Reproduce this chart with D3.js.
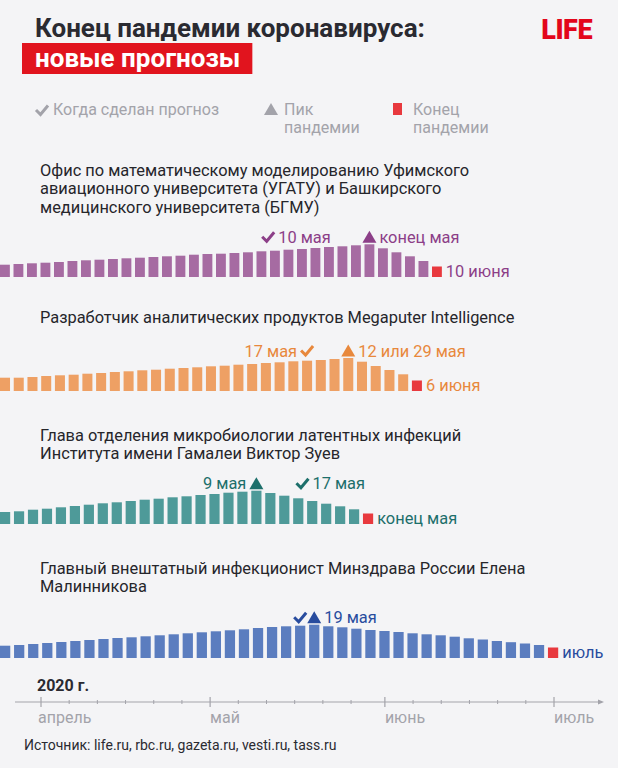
<!DOCTYPE html>
<html>
<head>
<meta charset="utf-8">
<script src="https://cdn.jsdelivr.net/npm/d3@7"></script>
<style>
  html, body { margin: 0; padding: 0; background: #f4f4f6; }
  svg { display: block; font-family: Roboto, "Noto Sans", sans-serif; }
  .row-title { font-size: 16.4px; fill: #26262b; }
  .note { font-size: 16.4px; }
  .legend-text { font-size: 16px; fill: #a3a3aa; }
  .month { font-size: 16px; fill: #a3a3aa; }
</style>
</head>
<body>
<div id="chart"></div>
<script>
// ranking of forecasts: four rows of bars, one per forecaster

// bar heights (relative units)
var purpleBars = [12.3, 13, 13.7, 14.3, 15, 16, 16.7, 17.3, 18, 18.7, 19.3, 20, 20.7, 21.3, 22.3, 23,
    23.3, 24, 24.7, 25.7, 26.3, 27.3, 28, 29, 30, 30.7, 31.7, 32.7, 28.7, 24.7, 20.7, 16];
var orangeBars = [13.3, 13.3, 14, 15, 15.7, 16.3, 17.3, 18, 19, 19.7, 20.7, 21.3, 22.3, 23, 23.7,
    24.7, 25.3, 26.3, 27, 28, 28.7, 29.7, 30.3, 31, 32, 33, 29.3, 25, 21, 16.7];
var tealBars = [12, 12.7, 14.3, 15.3, 16.7, 18, 19.3, 20.7, 21.7, 23, 24.3, 25.3, 26.7, 27.7, 29,
    30, 31.3, 32.3, 33.3, 31, 28.3, 25.7, 23, 20.3, 17.7, 14.7];
var blueBars = [12.3, 13, 14, 15, 16, 17, 18, 19, 20, 20.7, 21.7, 22.7, 23.7, 24.7, 25.7, 26.7,
    27.7, 28.7, 30, 31, 31.7, 32.3, 33.3, 31.7, 30.7, 29.3, 28, 27, 26, 24.7, 23.7, 22.7, 21.3,
    19.7, 18.5, 17, 15.8, 14.5, 13];

var rowTitles = [
    ["Офис по математическому моделированию Уфимского",
     "авиационного университета (УГАТУ) и Башкирского",
     "медицинского университета (БГМУ)"],
    ["Разработчик аналитических продуктов Megaputer Intelligence"],
    ["Глава отделения микробиологии латентных инфекций",
     "Института имени Гамалеи Виктор Зуев"],
    ["Главный внештатный инфекционист Минздрава России Елена",
     "Малинникова"]
];

// where the marks sit, as bar index, and their labels
var forecastIdx = [19.5, 22, 21.3, 21];
var forecastLabels = ["10 мая", "17 мая", "17 мая", ""];
var forecastSide = ["right", "left", "right", "none"];
var peakIdx = [27, 25, 18, 22];
var peakLabels = ["конец мая", "12 или 29 мая", "9 мая", "19 мая"];
var peakSide = ["right", "right", "left", "right"];
var endLabels = ["10 июня", "6 июня", "конец мая", "июль"];

var monthNames = ["апрель", "май", "июнь", "июль"];
var monthStarts = [new Date(2020, 3, 1), new Date(2020, 4, 1), new Date(2020, 5, 1), new Date(2020, 6, 1)];
var minorDays = [6, 11, 16, 21, 26];

var legendLabels = [["Когда сделан прогноз"], ["Пик", "пандемии"], ["Конец", "пандемии"]];

// colours and layout per row
var barColors = ["#a66ba2", "#eea064", "#4e9a99", "#5b7dbf"];
var noteColors = ["#8c3f88", "#e8883c", "#1d6f6b", "#284c9e"];
var rowBottoms = [277, 391, 524, 658];
var rowTitleY = [176, 323, 441, 574];
var rowSteps = [13.5, 13.73, 13.96, 14.05];
var endRed = "#e8393e";

var width = 618, height = 768;

var svg = d3.select("#chart").append("svg")
    .attr("width", width)
    .attr("height", height);

svg.append("rect").attr("width", width).attr("height", height).attr("fill", "#f4f4f6");

// * title
svg.append("text")
    .attr("x", 35).attr("y", 37)
    .attr("font-size", 26).attr("font-weight", 700)
    .attr("fill", "#2a2a31")
    .text("Конец пандемии коронавируса:");

var subBox = svg.append("rect").attr("fill", "#e1141e");
var sub = svg.append("text")
    .attr("x", 35).attr("y", 67)
    .attr("font-size", 26).attr("font-weight", 700)
    .attr("fill", "#ffffff")
    .text("новые прогнозы");
var bb = sub.node().getBBox();
subBox.attr("x", 22).attr("y", 43).attr("width", bb.x + bb.width + 12 - 22).attr("height", 31);

svg.append("text")
    .attr("x", 592).attr("y", 39)
    .attr("text-anchor", "end")
    .attr("font-size", 27).attr("font-weight", 900)
    .attr("letter-spacing", -0.5)
    .attr("fill", "#e3061b")
    .text("LIFE");

// little glyphs
function drawCheck(g, cx, base, color) {
    g.append("path")
        .attr("d", "M" + (cx - 6) + "," + (base - 6) + " L" + (cx - 1.5) + "," + (base - 1.5) +
            " L" + (cx + 6) + "," + (base - 10.5))
        .attr("fill", "none")
        .attr("stroke", color)
        .attr("stroke-width", 3);
}
function drawTriangle(g, cx, base, color) {
    g.append("path")
        .attr("d", "M" + (cx - 7) + "," + base + " L" + cx + "," + (base - 12) + " L" + (cx + 7) + "," + base + "Z")
        .attr("fill", color);
}

// * legend
var legendX = [35, 264, 393];
var legendG = svg.append("g");
drawCheck(legendG, legendX[0] + 7, 116, "#a3a3aa");
drawTriangle(legendG, legendX[1] + 7, 115, "#a3a3aa");
legendG.append("rect").attr("x", legendX[2]).attr("y", 103).attr("width", 9).attr("height", 12).attr("fill", endRed);

// one text per line so the lines never share a box
legendLabels.forEach(function(lines, i) {
    var lx = legendX[i] + (i == 0 ? 18 : 20);
    lines.forEach(function(l, j) {
        legendG.append("text")
            .attr("class", "legend-text")
            .attr("x", lx)
            .attr("y", 115 + j * 18)
            .text(l);
    });
});

// * rows
var allBars = [purpleBars, orangeBars, tealBars, blueBars];

var y = d3.scaleLinear().domain([0, 34]).range([0, 34]);

allBars.forEach(function(vals, r) {
    var n = vals.length;
    var step = rowSteps[r];
    var x = d3.scaleBand()
        .domain(d3.range(n + 1))
        .range([0, (n + 1) * step])
        .paddingInner(0.27)
        .paddingOuter(0.135)
        .align(0);
    var bottom = rowBottoms[r];
    var g = svg.append("g");

    // title
    var t = g.append("text").attr("class", "row-title").attr("x", 40).attr("y", rowTitleY[r]);
    rowTitles[r].forEach(function(l, j) {
        t.append("tspan").attr("x", 40).attr("dy", j == 0 ? 0 : 18.3).text(l);
    });

    g.selectAll(".bar")
        .data(vals)
        .enter()
        .append("rect")
        .attr("class", "bar")
        .attr("x", function(d, i) { return x(i); })
        .attr("y", function(d) { return bottom - y(d); })
        .attr("width", x.bandwidth())
        .attr("height", function(d) { return y(d); })
        .attr("fill", barColors[r]);

    // end of pandemic square
    g.append("rect")
        .attr("x", x(n))
        .attr("y", bottom - 10.5)
        .attr("width", x.bandwidth())
        .attr("height", 10.5)
        .attr("fill", endRed);

    g.append("text")
        .attr("class", "note")
        .attr("x", x(n) + x.bandwidth() + 4)
        .attr("y", bottom)
        .attr("fill", noteColors[r])
        .text(endLabels[r]);

    // markers sit just on top of the peak bar
    var base = bottom - y(d3.max(vals)) - 1.5;
    var idxX = function(i) { return x(0) + i * x.step() + x.bandwidth() / 2; };

    var fx = idxX(forecastIdx[r]);
    drawCheck(g, fx, base, noteColors[r]);
    if (forecastSide[r] == "right") {
        g.append("text").attr("class", "note").attr("x", fx + 10).attr("y", base)
            .attr("fill", noteColors[r]).text(forecastLabels[r]);
    } else if (forecastSide[r] == "left") {
        g.append("text").attr("class", "note").attr("x", fx - 10).attr("y", base)
            .attr("text-anchor", "end").attr("fill", noteColors[r]).text(forecastLabels[r]);
    }

    var px = idxX(peakIdx[r]);
    drawTriangle(g, px, base, noteColors[r]);
    if (peakSide[r] == "right") {
        g.append("text").attr("class", "note").attr("x", px + 10).attr("y", base)
            .attr("fill", noteColors[r]).text(peakLabels[r]);
    } else {
        g.append("text").attr("class", "note").attr("x", px - 10).attr("y", base)
            .attr("text-anchor", "end").attr("fill", noteColors[r]).text(peakLabels[r]);
    }
});

// * time axis
var axisY = 702;
var xTime = d3.scaleTime()
    .domain([monthStarts[0], monthStarts[3]])
    .range([41, 554]);

svg.append("text")
    .attr("x", 37).attr("y", 691)
    .attr("font-size", 16).attr("font-weight", 700)
    .attr("fill", "#2a2a31")
    .text("2020 г.");

var axisG = svg.append("g");
axisG.append("line")
    .attr("x1", 15).attr("x2", 602)
    .attr("y1", axisY).attr("y2", axisY)
    .attr("stroke", "#a3a3aa").attr("stroke-width", 1.2);
axisG.append("path")
    .attr("d", "M598," + (axisY - 2.5) + " L604," + axisY + " L598," + (axisY + 2.5) + "Z")
    .attr("fill", "#a3a3aa");

var minorTicks = [];
monthStarts.slice(0, 3).forEach(function(m) {
    minorDays.forEach(function(d) { minorTicks.push(new Date(2020, m.getMonth(), d)); });
});

axisG.selectAll(".minor")
    .data(minorTicks)
    .enter().append("line")
    .attr("x1", function(d) { return xTime(d); })
    .attr("x2", function(d) { return xTime(d); })
    .attr("y1", axisY - 2).attr("y2", axisY + 2)
    .attr("stroke", "#a3a3aa").attr("stroke-width", 1);

axisG.selectAll(".major")
    .data(monthStarts)
    .enter().append("line")
    .attr("x1", function(d) { return xTime(d); })
    .attr("x2", function(d) { return xTime(d); })
    .attr("y1", axisY - 5).attr("y2", axisY + 5)
    .attr("stroke", "#a3a3aa").attr("stroke-width", 1.2);

axisG.selectAll(".month")
    .data(monthStarts)
    .enter().append("text")
    .attr("class", "month")
    .attr("x", function(d, i) { return xTime(d) - (i == 0 ? 3 : 0); })
    .attr("y", axisY + 21)
    .text(function(d, i) { return monthNames[i]; });

svg.append("text")
    .attr("x", 24).attr("y", 750)
    .attr("font-family", "'Liberation Sans Narrow', Roboto, sans-serif")
    .attr("font-size", 14)
    .attr("fill", "#2a2a31")
    .text("Источник: life.ru, rbc.ru, gazeta.ru, vesti.ru, tass.ru");
</script>
</body>
</html>
